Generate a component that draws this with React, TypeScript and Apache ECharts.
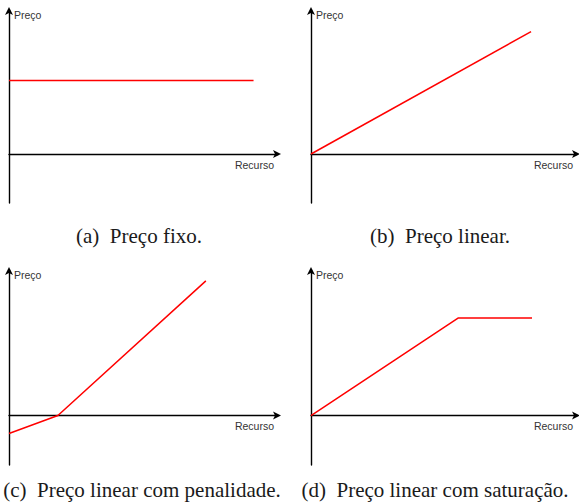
import React, { useEffect, useRef } from "react";
import * as echarts from "echarts";

const xAxisName = "Recurso";
const yAxisName = "Preço";
const captions = [
  "(a)  Preço fixo.",
  "(b)  Preço linear.",
  "(c)  Preço linear com penalidade.",
  "(d)  Preço linear com saturação.",
];

// Each panel: [x, y] points of the price curve
const fixedPrice: [number, number][] = [
  [0, 5.1],
  [10, 5.1],
];
const linearPrice: [number, number][] = [
  [0, 0],
  [9.1, 8.5],
];
const penaltyPrice: [number, number][] = [
  [0, -1.23],
  [2.0, 0],
  [8.05, 9.25],
];
const saturationPrice: [number, number][] = [
  [0, 0],
  [6.08, 6.7],
  [9.14, 6.7],
];

const xRange = [0, 11];
const yRange = [-3.4, 10];

export default function App() {
  const ref = useRef<HTMLDivElement>(null);

  useEffect(() => {
    if (!ref.current) return;
    const chart = echarts.init(ref.current, null, { renderer: "svg" });

    const grids = [
      { left: 9, top: 10, width: 269, height: 193 },
      { left: 311, top: 10, width: 266, height: 193 },
      { left: 9, top: 270, width: 269, height: 195 },
      { left: 311, top: 270, width: 266, height: 195 },
    ];
    const datasets = [fixedPrice, linearPrice, penaltyPrice, saturationPrice];
    const captionPos = [
      [139, 236],
      [440, 236],
      [142, 490],
      [435, 490],
    ];

    const axisLine = {
      show: true,
      symbol: ["none", "arrow"],
      symbolSize: [6, 8],
      symbolOffset: [0, 3],
      lineStyle: { color: "#000", width: 1.4 },
    };

    const option: any = {
      animation: false,
      backgroundColor: "#fff",
      grid: grids.map((g) => ({ ...g, containLabel: false })),
      xAxis: grids.map((_, i) => ({
        type: "value",
        gridIndex: i,
        min: xRange[0],
        max: xRange[1],
        axisLine: { ...axisLine, onZero: true },
        axisTick: { show: false },
        axisLabel: { show: false },
        splitLine: { show: false },
        name: xAxisName,
        nameLocation: "end",
        nameGap: -4,
        nameTextStyle: {
          fontFamily: "Liberation Sans",
          fontSize: 10.5,
          color: "#333",
          align: "right",
          verticalAlign: "top",
          padding: [5, 0, 0, 0],
        },
      })),
      yAxis: grids.map((_, i) => ({
        type: "value",
        gridIndex: i,
        min: yRange[0],
        max: yRange[1],
        axisLine: { ...axisLine, onZero: false },
        axisTick: { show: false },
        axisLabel: { show: false },
        splitLine: { show: false },
        name: yAxisName,
        nameLocation: "end",
        nameGap: -5,
        nameTextStyle: {
          fontFamily: "Liberation Sans",
          fontSize: 10.5,
          color: "#333",
          align: "left",
          verticalAlign: "middle",
          padding: [0, 0, 0, 5],
        },
      })),
      series: datasets.map((d, i) => ({
        type: "line",
        xAxisIndex: i,
        yAxisIndex: i,
        data: d,
        showSymbol: false,
        symbol: "none",
        lineStyle: { color: "#ff0000", width: 1.5 },
        silent: true,
      })),
      graphic: captions.map((c, i) => ({
        type: "text",
        x: captionPos[i][0],
        y: captionPos[i][1],
        style: {
          text: c,
          fontFamily: "Liberation Serif",
          fontSize: 21,
          fill: "#1a1a1a",
          textAlign: "center",
          textVerticalAlign: "middle",
        },
      })),
    };

    chart.setOption(option);
    return () => chart.dispose();
  }, []);

  return (
    <div
      ref={ref}
      style={{ position: "absolute", left: 0, top: 0, width: 579, height: 504 }}
    />
  );
}
